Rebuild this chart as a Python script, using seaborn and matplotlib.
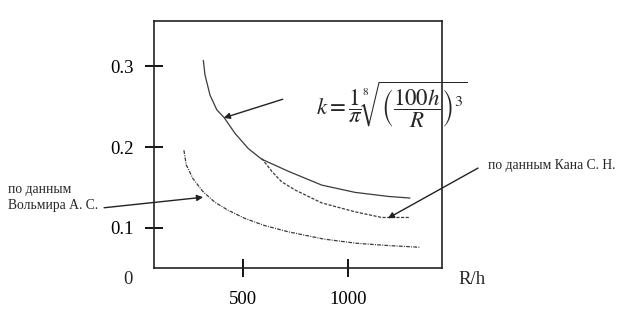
import matplotlib
matplotlib.use("Agg")
import matplotlib.pyplot as plt
import seaborn as sns
import pandas as pd

# ---- data ----
solid_x = [313, 321, 345, 377, 413, 463, 527, 590, 717, 875, 1033, 1191, 1294]
solid_y = [0.307, 0.289, 0.264, 0.246, 0.236, 0.217, 0.198, 0.185, 0.170,
           0.153, 0.144, 0.139, 0.137]

kana_x = [590, 638, 685, 748, 875, 1033, 1160, 1294]
kana_y = [0.186, 0.170, 0.157, 0.147, 0.131, 0.120, 0.113, 0.113]

volmir_x = [221, 232, 264, 311, 367, 430, 509, 604, 715, 883, 1041, 1199, 1342]
volmir_y = [0.196, 0.178, 0.161, 0.145, 0.132, 0.122, 0.112, 0.103, 0.0954,
            0.0864, 0.0811, 0.0782, 0.0762]

x_ticks = [500, 1000]
x_tick_labels = ["500", "1000"]
y_ticks = [0.1, 0.2, 0.3]
y_tick_labels = ["0.1", "0.2", "0.3"]

formula = r"$k=\dfrac{1}{\pi}\sqrt[8]{\left(\dfrac{100h}{R}\right)^{3}}$"
label_kana = "по данным Кана С. Н."
label_volmir = "по данным\nВольмира А. С."
x_label = "R/h"
origin_label = "0"

# ---- style ----
sns.set_theme(style="white")
plt.rcParams["font.family"] = ["Liberation Serif", "DejaVu Serif"]
plt.rcParams["mathtext.fontset"] = "stix"

fig = plt.figure(figsize=(6.23, 3.10), dpi=100)
ax = fig.add_axes([154 / 623, 42 / 310, 288 / 623, 247.3 / 310])

line_color = "#3a3a3a"
df_s = pd.DataFrame({"x": solid_x, "y": solid_y})
df_k = pd.DataFrame({"x": kana_x, "y": kana_y})
df_v = pd.DataFrame({"x": volmir_x, "y": volmir_y})
sns.lineplot(data=df_s, x="x", y="y", ax=ax, sort=False, estimator=None,
             color=line_color, lw=0.9)
sns.lineplot(data=df_k, x="x", y="y", ax=ax, sort=False, estimator=None,
             color=line_color, lw=0.9, linestyle=(0, (2.5, 1.2)))
sns.lineplot(data=df_v, x="x", y="y", ax=ax, sort=False, estimator=None,
             color=line_color, lw=0.9, linestyle=(0, (3, 1, 0.8, 1)))

ax.set_xlim(79, 1446)
ax.set_ylim(0.0506, 0.356)
ax.set_xlabel("")
ax.set_ylabel("")

ax.set_xticks(x_ticks)
ax.set_xticklabels(x_tick_labels)
ax.set_yticks(y_ticks)
ax.set_yticklabels(y_tick_labels)
ax.tick_params(axis="x", direction="inout", length=13, width=1.3, pad=10,
               labelsize=13.5, colors="black", bottom=True)
ax.tick_params(axis="y", direction="inout", length=13, width=1.3, pad=8,
               labelsize=13.5, colors="black", left=True)

for sp in ax.spines.values():
    sp.set_visible(True)
    sp.set_color("#222222")
    sp.set_linewidth(1.2)

# corner labels
ax.text(-0.09, -0.045, origin_label, transform=ax.transAxes, fontsize=13.5,
        ha="center", va="center")
ax.text(1.105, -0.045, x_label, transform=ax.transAxes, fontsize=13.5,
        ha="center", va="center")

# formula
ax.text(0.825, 0.66, formula, transform=ax.transAxes, fontsize=16.5,
        ha="center", va="center")

arrow_kw = dict(arrowstyle="-|>", color="#222222", lw=1.0,
                mutation_scale=9, shrinkA=0, shrinkB=0)

# arrow to the solid curve
ax.annotate("", xy=(410, 0.236), xytext=(690, 0.259),
            arrowprops=arrow_kw, annotation_clip=False)
# Kana arrow
ax.annotate("", xy=(1189, 0.112), xytext=(1617, 0.174),
            arrowprops=arrow_kw, annotation_clip=False)
fig.text(488 / 623, 1 - 165 / 310, label_kana, fontsize=9.8,
         ha="left", va="center")
# Volmir arrow
ax.annotate("", xy=(312, 0.138), xytext=(-158, 0.125),
            arrowprops=arrow_kw, annotation_clip=False)
fig.text(8 / 623, 1 - 197.5 / 310, label_volmir, fontsize=9.8,
         ha="left", va="center", linespacing=1.25)

fig.savefig("out.png", dpi=100)
